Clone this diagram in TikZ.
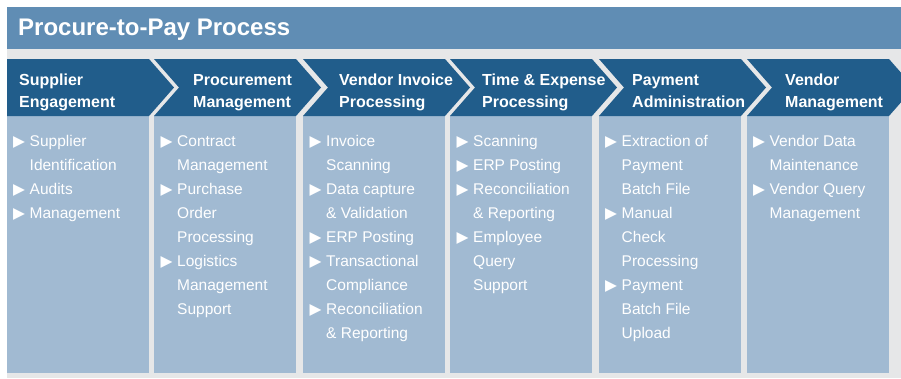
\documentclass[tikz,border=0pt]{standalone}
\usepackage{fontspec}
\setmainfont{Liberation Sans}
\newfontfamily\symfont{DejaVu Sans}
\definecolor{titlebar}{RGB}{96,141,180}
\definecolor{chevblue}{RGB}{33,93,139}
\definecolor{colblue}{RGB}{161,186,210}
\definecolor{bggray}{RGB}{230,231,232}
\newcommand\tribul{\makebox[16.5pt][l]{\raisebox{-0.6pt}{\symfont\fontsize{15.5}{15.5}\selectfont ▶}}}
\newcommand\bitem{\par\noindent\hangindent=16.5pt\hangafter=1\tribul}
\newcommand\bodyfont{\fontsize{15.5}{24}\selectfont}
\newcommand\headfont{\bfseries\fontsize{16}{21.5}\selectfont}
\begin{document}
\begin{tikzpicture}[x=1pt,y=-1pt,
  chev/.style={fill=chevblue},
  colbox/.style={fill=colblue},
  headtxt/.style={anchor=base west,inner sep=0pt,text=white},
  bodytxt/.style={anchor=base west,inner sep=0pt,text=white}]
\useasboundingbox (0,0) rectangle (901,378);
\clip (0,0) rectangle (901,378);
\fill[white] (0,0) rectangle (901,378);
\fill[bggray] (7,49) rectangle (901,378);
\fill[titlebar] (7,7) rectangle (901,49);
\node[anchor=base west,inner sep=0pt,font=\bfseries\fontsize{24}{24}\selectfont,text=white] (title) at (18,35) {Procure-to-Pay Process};
% columns
\foreach \L/\R in {7/149,154/296,303/445,450/592,599/741,747/889}
  \fill[colbox] (\L,116) rectangle (\R,373);
% chevrons
\fill[chev] (7,59) -- (149,59) -- (174,87.5) -- (149,116) -- (7,116) -- cycle;
\foreach \L/\R in {154/296,303/445,450/592,599/741,747/889}
  \fill[chev] (\L,59) -- (\R,59) -- (\R+25,87.5) -- (\R,116) -- (\L,116) -- (\L+25,87.5) -- cycle;
% headers
\node[headtxt] (h1) at (19,85.5) {\parbox[t]{150pt}{\headfont Supplier\\Engagement}};
\node[headtxt] (h2) at (193,85.5) {\parbox[t]{150pt}{\headfont Procurement\\Management}};
\node[headtxt] (h3) at (339,85.5) {\parbox[t]{150pt}{\headfont Vendor Invoice\\Processing}};
\node[headtxt] (h4) at (482,85.5) {\parbox[t]{150pt}{\headfont Time \& Expense\\Processing}};
\node[headtxt] (h5) at (632,85.5) {\parbox[t]{150pt}{\headfont Payment\\Administration}};
\node[headtxt] (h6) at (785,85.5) {\parbox[t]{150pt}{\headfont Vendor\\Management}};
% bodies
\node[bodytxt] (b1) at (13,146) {\parbox[t]{134pt}{\raggedright\bodyfont
  \bitem Supplier\newline Identification
  \bitem Audits
  \bitem Management}};
\node[bodytxt] (b2) at (160.5,146) {\parbox[t]{134pt}{\raggedright\bodyfont
  \bitem Contract\newline Management
  \bitem Purchase\newline Order\newline Processing
  \bitem Logistics\newline Management\newline Support}};
\node[bodytxt] (b3) at (309.5,146) {\parbox[t]{134pt}{\raggedright\bodyfont
  \bitem Invoice\newline Scanning
  \bitem Data capture\newline \& Validation
  \bitem ERP Posting
  \bitem Transactional\newline Compliance
  \bitem Reconciliation\newline \& Reporting}};
\node[bodytxt] (b4) at (456.5,146) {\parbox[t]{134pt}{\raggedright\bodyfont
  \bitem Scanning
  \bitem ERP Posting
  \bitem Reconciliation\newline \& Reporting
  \bitem Employee\newline Query\newline Support}};
\node[bodytxt] (b5) at (605,146) {\parbox[t]{134pt}{\raggedright\bodyfont
  \bitem Extraction of\newline Payment\newline Batch File
  \bitem Manual\newline Check\newline Processing
  \bitem Payment\newline Batch File\newline Upload}};
\node[bodytxt] (b6) at (753,146) {\parbox[t]{134pt}{\raggedright\bodyfont
  \bitem Vendor Data\newline Maintenance
  \bitem Vendor Query\newline Management}};
\end{tikzpicture}
\end{document}
